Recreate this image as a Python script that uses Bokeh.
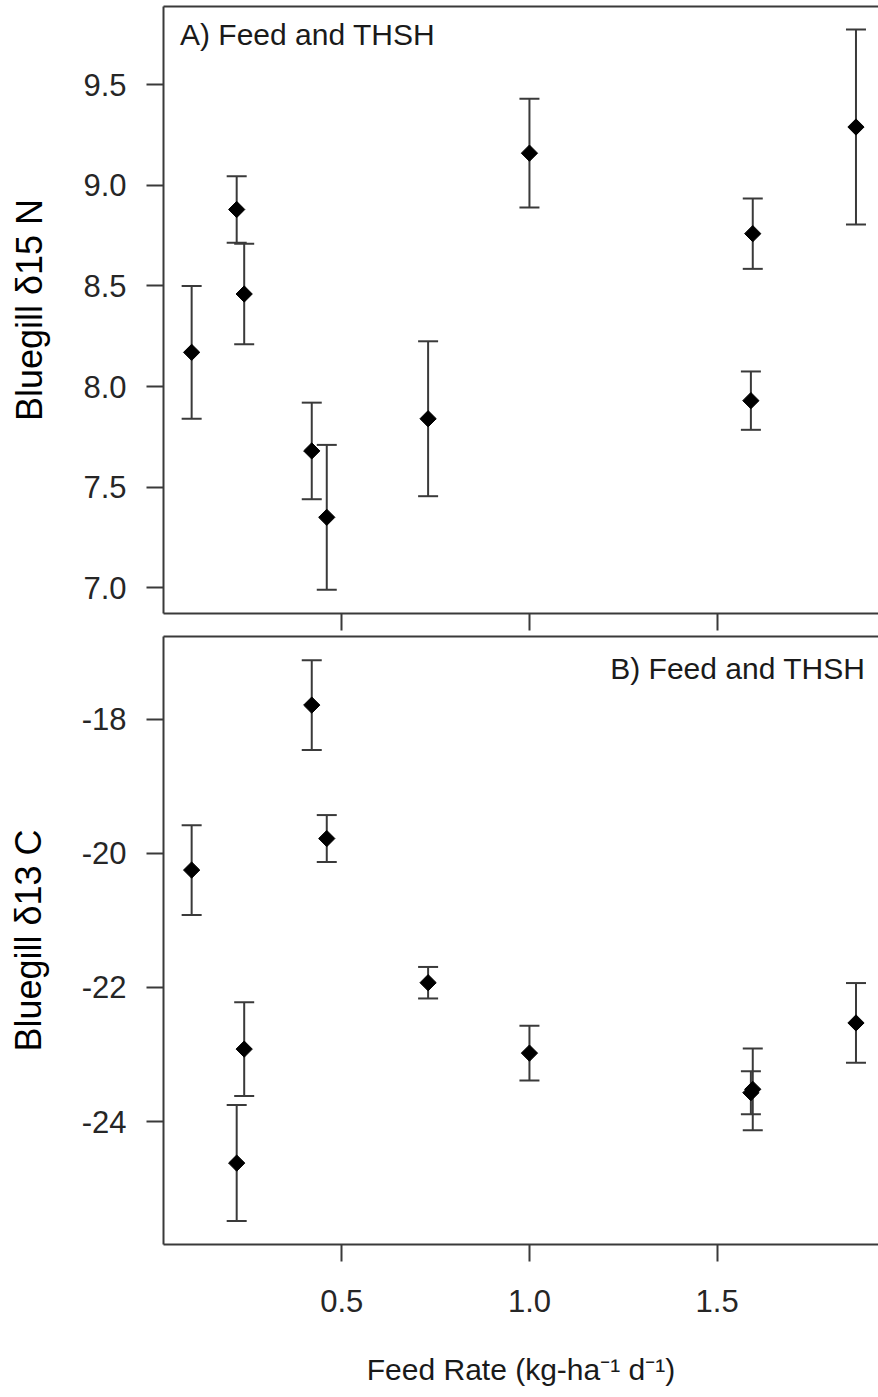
import numpy as np
from bokeh.plotting import figure
from bokeh.models import (ColumnDataSource, Whisker, TeeHead, Label, LinearAxis,
                          FixedTicker, Range1d, CustomLabelingPolicy)
from bokeh.layouts import column
from bokeh.embed import file_html
from bokeh.resources import INLINE

# Bluegill stable isotopes vs. feed rate (mean +/- error)
feed_rate = [0.10, 0.22, 0.24, 0.42, 0.46, 0.73, 1.00, 1.595, 1.59, 1.87]
n15_mean = [8.17, 8.88, 8.46, 7.68, 7.35, 7.84, 9.16, 8.76, 7.93, 9.29]
n15_err = [0.33, 0.165, 0.25, 0.24, 0.36, 0.385, 0.27, 0.175, 0.145, 0.485]
c13_mean = [-20.25, -24.62, -22.92, -17.79, -19.78, -21.93, -22.98, -23.52, -23.57, -22.53]
c13_err = [0.67, 0.865, 0.70, 0.67, 0.35, 0.235, 0.41, 0.61, 0.32, 0.595]

x_ticks = [0.5, 1.0, 1.5]
x_tick_labels = ["0.5", "1.0", "1.5"]
n15_ticks = [7.0, 7.5, 8.0, 8.5, 9.0, 9.5]
n15_tick_labels = ["7.0", "7.5", "8.0", "8.5", "9.0", "9.5"]
c13_ticks = [-24, -22, -20, -18]
c13_tick_labels = ["-24", "-22", "-20", "-18"]

FONT = "Liberation Sans"
LINE = "#3a3a3a"
TEXT = "#262626"
W = 878


def style_axis(ax, ticks, labels, show_labels=True):
    ax.ticker = FixedTicker(ticks=ticks)
    ax.major_label_overrides = {t: l for t, l in zip(ticks, labels)}
    ax.axis_line_color = LINE
    ax.axis_line_width = 2
    ax.major_tick_line_color = LINE
    ax.major_tick_line_width = 2
    ax.major_tick_in = 0
    ax.major_tick_out = 17
    ax.minor_tick_line_color = None
    ax.minor_tick_in = 0
    ax.minor_tick_out = 0
    ax.major_label_text_font = FONT
    ax.major_label_text_color = TEXT
    ax.major_label_text_font_size = "31px"
    if not show_labels:
        # tick marks only, no tick labels
        ax.major_label_policy = CustomLabelingPolicy(code="return new Set()")
        ax.major_label_text_font_size = "0px"
        ax.major_label_standoff = 0


def top_border(p):
    ax = LinearAxis(ticker=FixedTicker(ticks=[]), axis_line_color=LINE,
                    axis_line_width=2, major_tick_line_color=None,
                    minor_tick_line_color=None, major_tick_out=0, minor_tick_out=0,
                    major_label_standoff=0, major_label_text_font_size="0px",
                    major_label_policy=CustomLabelingPolicy(code="return new Set()"))
    p.add_layout(ax, "above")


def panel(height, y_range, mb_top, mb_bottom):
    p = figure(width=W, height=height, x_range=Range1d(0.025, 1.930),
               y_range=y_range, min_border_left=163, min_border_right=0,
               min_border_top=mb_top, min_border_bottom=mb_bottom,
               output_backend="svg", toolbar_location=None)
    p.outline_line_color = None
    p.xgrid.visible = False
    p.ygrid.visible = False
    p.background_fill_color = "white"
    p.border_fill_color = "white"
    top_border(p)
    return p


def add_points(p, y, err):
    src = ColumnDataSource(dict(
        x=feed_rate, y=y,
        lower=[a - e for a, e in zip(y, err)],
        upper=[a + e for a, e in zip(y, err)],
    ))
    w = Whisker(source=src, base="x", lower="lower", upper="upper",
                line_color=LINE, line_width=2,
                lower_head=TeeHead(size=20, line_color=LINE, line_width=2),
                upper_head=TeeHead(size=20, line_color=LINE, line_width=2))
    p.add_layout(w)
    p.scatter("x", "y", source=src, marker="square", angle=np.pi / 4,
              size=11.5, fill_color="black", line_color="black", line_width=1)


def style_ylabel(ax, text):
    ax.major_label_standoff = 20
    ax.axis_label = text
    ax.axis_label_text_font = FONT
    ax.axis_label_text_font_size = "36px"
    ax.axis_label_text_font_style = "normal"
    ax.axis_label_text_color = "black"
    ax.axis_label_standoff = 30


# --- panel A: delta 15 N
p1 = panel(634, Range1d(6.872, 9.889), 6, 21)
style_axis(p1.below[0], x_ticks, x_tick_labels, show_labels=False)
style_axis(p1.left[0], n15_ticks, n15_tick_labels)
style_ylabel(p1.left[0], "Bluegill δ15 N")
add_points(p1, n15_mean, n15_err)
p1.add_layout(Label(x=0.069, y=9.75, text="A) Feed and THSH",
                    text_font=FONT, text_font_size="30px", text_color="#1a1a1a",
                    text_baseline="alphabetic", text_align="left"))

# --- panel B: delta 13 C
p2 = panel(763, Range1d(-25.834, -16.767), 2, 153)
xb = p2.below[0]
style_axis(xb, x_ticks, x_tick_labels)
xb.major_label_standoff = 28
xb.axis_label = "Feed Rate (kg-ha⁻¹ d⁻¹)"
xb.axis_label_text_font = FONT
xb.axis_label_text_font_size = "30px"
xb.axis_label_text_font_style = "normal"
xb.axis_label_text_color = "#1a1a1a"
xb.axis_label_standoff = 38
style_axis(p2.left[0], c13_ticks, c13_tick_labels)
style_ylabel(p2.left[0], "Bluegill δ13 C")
add_points(p2, c13_mean, c13_err)
p2.add_layout(Label(x=1.895, y=-17.245, text="B) Feed and THSH",
                    text_font=FONT, text_font_size="30px", text_color="#1a1a1a",
                    text_baseline="alphabetic", text_align="right"))

layout = column(p1, p2, spacing=0)
open("out.html", "w").write(file_html(layout, INLINE))
